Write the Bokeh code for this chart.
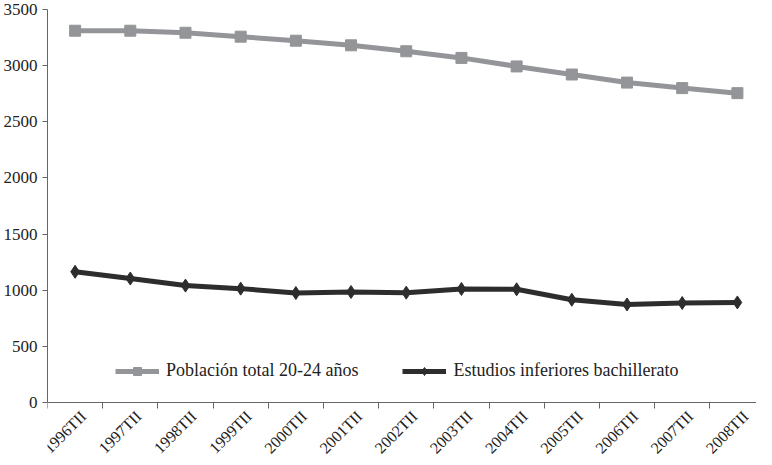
import math
from bokeh.plotting import figure
from bokeh.models import FixedTicker, Legend, LegendItem, Range1d
from bokeh.embed import file_html
from bokeh.resources import INLINE

periods = ["1996TII", "1997TII", "1998TII", "1999TII", "2000TII", "2001TII", "2002TII",
           "2003TII", "2004TII", "2005TII", "2006TII", "2007TII", "2008TII"]
poblacion_total = [3311, 3311, 3293, 3258, 3222, 3181, 3128, 3069, 2993, 2921, 2849, 2800, 2755]
estudios_inferiores = [1164, 1104, 1041, 1014, 975, 984, 978, 1011, 1008, 915, 873, 886, 891]
y_ticks = [0, 500, 1000, 1500, 2000, 2500, 3000, 3500]

FONT = "Liberation Serif"
GRAY = "#939598"
DARK = "#2d2d2d"
TXT = "#222222"

x = list(range(len(periods)))

# frame runs down to the bottom of the figure; the x axis is pinned at y=0
p = figure(width=756, height=457, output_backend="svg", toolbar_location=None,
           x_range=Range1d(-0.5, 12.346), y_range=Range1d(-490, 3500),
           min_border_left=42, min_border_right=0, min_border_top=9, min_border_bottom=0)
p.outline_line_color = None
p.xgrid.grid_line_color = None
p.ygrid.grid_line_color = None
p.background_fill_color = "white"
p.border_fill_color = "white"

l1 = p.line(x, poblacion_total, line_color=GRAY, line_width=5)
m1 = p.scatter(x, poblacion_total, marker="square", size=11, fill_color=GRAY, line_color=GRAY)
l2 = p.line(x, estudios_inferiores, line_color=DARK, line_width=5)
m2 = p.scatter(x, estudios_inferiores, marker="diamond", size=13, fill_color=DARK, line_color=DARK)

# y axis
yax = p.yaxis[0]
yax.ticker = FixedTicker(ticks=y_ticks)
yax.bounds = (0, 3500)
yax.axis_line_color = "#666666"
yax.major_tick_line_color = "#666666"
yax.major_tick_out = 5
yax.major_tick_in = 0
yax.minor_tick_line_color = None
yax.major_label_text_font = FONT
yax.major_label_text_font_size = "17px"
yax.major_label_text_color = TXT
yax.major_label_standoff = 5

# x axis: boundary ticks as minor ticks, labels at (slightly shifted) category centres
label_shift = 0.15
label_pos = [i + label_shift for i in x]
xax = p.xaxis[0]
xax.fixed_location = 0
xax.ticker = FixedTicker(ticks=label_pos, minor_ticks=[i - 0.5 for i in range(len(periods) + 1)])
xax.major_label_overrides = {pos: lab for pos, lab in zip(label_pos, periods)}
xax.axis_line_color = "#666666"
xax.major_tick_line_color = None
xax.major_tick_out = 0
xax.major_tick_in = 0
xax.minor_tick_line_color = "#666666"
xax.minor_tick_out = 6
xax.minor_tick_in = 0
xax.major_label_orientation = math.pi / 4
xax.major_label_text_font = FONT
xax.major_label_text_font_size = "16px"
xax.major_label_text_color = TXT
xax.major_label_standoff = 5

legend = Legend(items=[
    LegendItem(label="Población total 20-24 años", renderers=[l1, m1]),
    LegendItem(label="Estudios inferiores bachillerato", renderers=[l2, m2]),
], orientation="horizontal", location=(68, 76))
legend.border_line_color = None
legend.background_fill_alpha = 0
legend.padding = 0
legend.margin = 0
legend.spacing = 44
legend.glyph_width = 44
legend.glyph_height = 20
legend.label_standoff = 7
legend.label_text_font = FONT
legend.label_text_font_size = "18px"
legend.label_text_color = TXT
p.add_layout(legend, "center")

open("out.html", "w").write(file_html(p, INLINE))
